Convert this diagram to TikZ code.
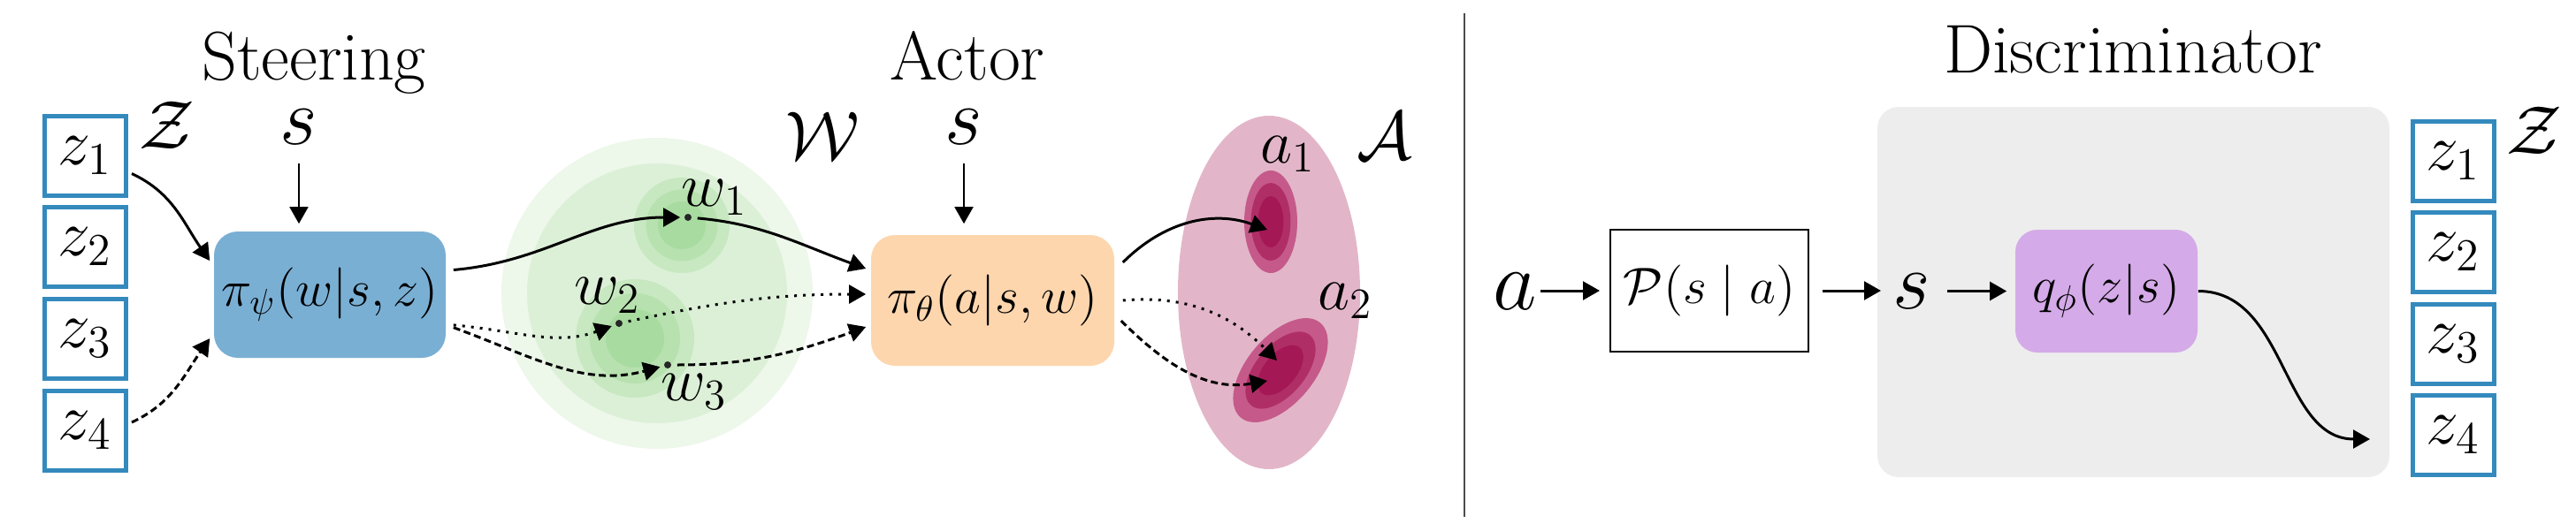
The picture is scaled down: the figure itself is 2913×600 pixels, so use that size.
\RequirePackage{fix-cm}
\documentclass[tikz,border=0pt]{standalone}
\usetikzlibrary{arrows.meta}
\newcommand{\myfs}[1]{\fontsize{#1}{#1}\selectfont}
\definecolor{zblue}{HTML}{348ABD}
\definecolor{bluebox}{HTML}{7AAFD4}
\definecolor{orangebox}{HTML}{FDD6AE}
\definecolor{purplebox}{HTML}{D4AAE8}
\definecolor{graybox}{HTML}{EDEDED}
\definecolor{gA}{HTML}{EDF7EA}
\definecolor{gB}{HTML}{DCF0D7}
\definecolor{gC}{HTML}{C7E8C0}
\definecolor{gD}{HTML}{B7E1AF}
\definecolor{gE}{HTML}{A8DBA0}
\definecolor{pA}{HTML}{E2B6C8}
\definecolor{pB}{HTML}{C55A8A}
\definecolor{pC}{HTML}{B02E66}
\definecolor{pD}{HTML}{A31855}
\begin{document}
\begin{tikzpicture}[x=0.25pt,y=0.25pt,
  arr/.style={line width=0.75pt, -{Triangle[length=4.75pt,width=5.2pt]}},
  dotline/.style={dash pattern=on 0.75pt off 1.75pt},
  dashline/.style={dash pattern=on 2pt off 1.1pt},
  zbox/.style={draw=zblue, line width=1.25pt, minimum width=23pt, minimum height=22.5pt, inner sep=0pt, font=\myfs{18.5}},
  title/.style={anchor=base, inner sep=0pt, font=\myfs{19.5}},
  cal/.style={anchor=base, inner sep=0pt, font=\myfs{19.5}},
  lbl/.style={anchor=base west, inner sep=0pt, font=\myfs{17.5}},
  bigs/.style={anchor=base, inner sep=0pt, font=\myfs{23}},
  mbox/.style={inner sep=0pt, font=\myfs{14.5}},
  dot/.style={circle, fill=black!85, inner sep=0pt, minimum size=2pt}]
\useasboundingbox (0,0) rectangle (2913,-600);

% green region W
\fill[gA] (743,-332) circle[radius=44pt];
\fill[gB] (743,-332) circle[radius=36.75pt];
\fill[gC] (771,-255) circle[radius=13.5pt];
\fill[gD] (771,-255) circle[radius=10.1pt];
\fill[gE] (771,-255) circle[radius=6.75pt];
\fill[gC] (718,-383) circle[radius=16.75pt];
\fill[gD] (718,-383) circle[radius=12.75pt];
\fill[gE] (718,-383) circle[radius=8.25pt];

% pink region A
\fill[pA] (1435,-331) ellipse[x radius=25.75pt, y radius=50pt];
\fill[pB] (1437,-251) ellipse[x radius=7.5pt, y radius=14.5pt];
\fill[pC] (1437,-251) ellipse[x radius=5.6pt, y radius=11pt];
\fill[pD] (1437,-251) ellipse[x radius=3.6pt, y radius=7.25pt];
\begin{scope}[rotate around={50:(1448,-419)}]
\fill[pB] (1448,-419) ellipse[x radius=17.5pt, y radius=9.5pt];
\fill[pC] (1448,-419) ellipse[x radius=12.95pt, y radius=7pt];
\fill[pD] (1448,-419) ellipse[x radius=8.4pt, y radius=4.6pt];
\end{scope}

% discriminator background
\node[fill=graybox, rounded corners=6pt, minimum width=144.75pt, minimum height=104.75pt] (disc) at (2412.5,-330.5) {};

% titles
\node[title] (tS) at (355,-90) {Steering};
\node[title] (tA) at (1094,-90) {Actor};
\node[title] (tD) at (2412,-82) {Discriminator};

% left z boxes
\foreach \i/\y in {1/176.5,2/279.5,3/383.5,4/487}
  \node[zbox] (zl\i) at (96.5,-\y) {$z_\i$};
\node[cal] (Zl) at (189,-168) {$\mathcal{Z}$};

% right z boxes
\foreach \i/\y in {1/182.5,2/285,3/389,4/492.5}
  \node[zbox] (zr\i) at (2774,-\y) {$z_\i$};
\node[cal] (Zr) at (2866,-174) {$\mathcal{Z}$};

% set labels
\node[cal] (Wl) at (930,-180) {$\mathcal{W}$};
\node[cal] (Al) at (1566,-180) {$\mathcal{A}$};

% main boxes
\node[mbox, fill=bluebox, rounded corners=6.75pt, minimum width=65.5pt, minimum height=35.75pt] (pipsi) at (373,-333.5) {$\pi_\psi(w|s,z)$};
\node[mbox, fill=orangebox, rounded corners=6.75pt, minimum width=68.75pt, minimum height=37pt] (pitheta) at (1122.5,-340) {$\pi_\theta(a|s,w)$};
\node[mbox, draw, line width=0.5pt, minimum width=56pt, minimum height=34.5pt] (P) at (1933,-329) {$\mathcal{P}(s\mid a)$};
\node[mbox, fill=purplebox, rounded corners=6.25pt, minimum width=51.5pt, minimum height=34.75pt] (q) at (2382,-329.5) {$q_\phi(z|s)$};

% s and a inputs
\node[bigs] (s1) at (338,-163) {$s$};
\node[bigs] (s2) at (1090,-163) {$s$};
\node[bigs] (s3) at (2162,-349) {$s$};
\node[bigs, font=\myfs{24}] (ain) at (1713,-350) {$a$};

% w points
\node[dot] (w1) at (778,-246) {};
\node[dot] (w2) at (700,-366) {};
\node[dot] (w3) at (755,-413) {};
\node[lbl] (lw1) at (770,-233) {$w_1$};
\node[lbl] (lw2) at (649,-344) {$w_2$};
\node[lbl] (lw3) at (747,-453) {$w_3$};

% a labels
\node[lbl] (la1) at (1425,-184) {$a_1$};
\node[lbl] (la2) at (1490,-350) {$a_2$};
\coordinate (a1t) at (1433,-260);
\coordinate (a2t) at (1444,-408);
\coordinate (a2u) at (1433,-431);

% divider
\coordinate (dtop) at (1656,-15);
\coordinate (dbot) at (1656,-585);
\draw[line width=0.4pt, black!70] (dtop) -- (dbot);

% s arrows
\draw[arr, line width=0.65pt, shorten <=5.25pt, shorten >=2pt] (s1) -- (s1 |- pipsi.north);
\draw[arr, line width=0.65pt, shorten <=5.25pt, shorten >=3pt] (s2) -- (s2 |- pitheta.north);

% z -> steering
\draw[arr] ([shift={(1pt,-5pt)}]zl1.east) to[out=-25,in=125] ([shift={(-1pt,9.6pt)}]pipsi.west);
\draw[arr, dashline] ([shift={(1pt,2.25pt)}]zl4.east) to[out=25,in=-125] ([shift={(-1pt,-12.4pt)}]pipsi.west);

% steering -> w
\draw[arr, shorten >=1pt] ([shift={(2pt,7pt)}]pipsi.east) to[out=5,in=180] (w1);
\draw[arr, dotline, shorten >=1pt] ([shift={(2pt,-8.6pt)}]pipsi.east) to[out=-5,in=200] (w2);
\draw[arr, dashline, shorten >=1pt] ([shift={(2pt,-9.3pt)}]pipsi.east) to[out=-20,in=195] (w3);

% w -> actor
\draw[arr, shorten <=1.5pt] (w1) to[out=-5,in=160] ([shift={(-1.25pt,9pt)}]pitheta.west);
\draw[arr, dotline, shorten <=1.5pt] (w2) to[out=12,in=180] ([shift={(-1.25pt,1.75pt)}]pitheta.west);
\draw[arr, dashline, shorten <=1.5pt] (w3) to[out=0,in=200] ([shift={(-1.25pt,-7.5pt)}]pitheta.west);

% actor -> a
\draw[arr] ([shift={(2.25pt,10.75pt)}]pitheta.east) to[out=45,in=160] (a1t);
\draw[arr, dotline] ([shift={(2.25pt,0pt)}]pitheta.east) to[out=5,in=135] (a2t);
\draw[arr, dashline] ([shift={(1.75pt,-5.75pt)}]pitheta.east) to[out=-45,in=190] (a2u);

% discriminator chain
\draw[arr, shorten <=1pt, shorten >=2.75pt] (ain.east |- P.west) -- (P.west);
\draw[arr, shorten <=3.75pt, shorten >=3.25pt] (P.east) -- (P.east -| s3.west);
\draw[arr, shorten <=4.5pt, shorten >=2.25pt] (s3.east |- q.west) -- (q.west);
\coordinate (qend) at (2680,-497);
\draw[arr] (q.east) to[out=0,in=180] (qend);
\end{tikzpicture}
\end{document}
